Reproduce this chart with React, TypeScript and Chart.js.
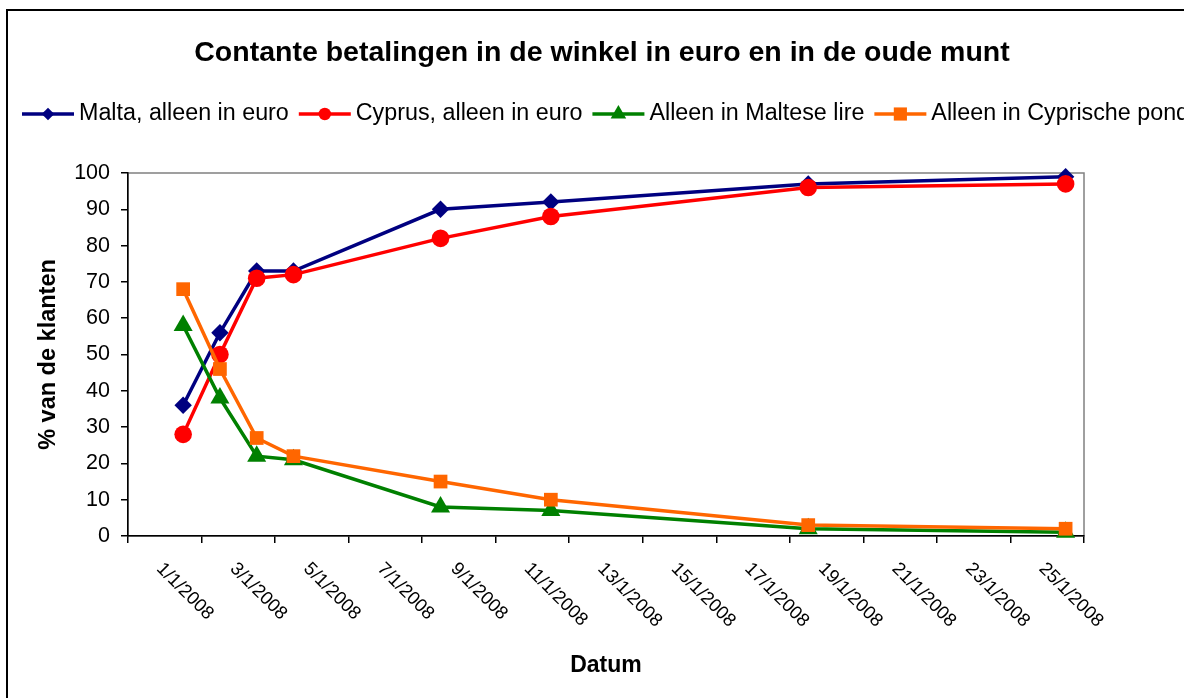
import React, { useEffect, useRef } from 'react';
import { Chart, registerables } from 'chart.js';

Chart.register(...registerables);

const TITLE = 'Contante betalingen in de winkel in euro en in de oude munt';
const Y_TITLE = '% van de klanten';
const X_TITLE = 'Datum';

// day of January 2008
const DAYS = [2, 3, 4, 5, 9, 12, 19, 26];
const MALTA_EURO = [36, 56, 73, 73, 90, 92, 97, 99];
const CYPRUS_EURO = [28, 50, 71, 72, 82, 88, 96, 97];
const MALTESE_LIRE = [58, 38, 22, 21, 8, 7, 2, 1];
const CYPRIOT_POUND = [68, 46, 27, 22, 15, 10, 3, 2];

const SERIES_NAMES = [
  'Malta, alleen in euro',
  'Cyprus, alleen in euro',
  'Alleen in Maltese lire',
  'Alleen in Cyprische pond',
];

const X_LABEL_DAYS = [1, 3, 5, 7, 9, 11, 13, 15, 17, 19, 21, 23, 25];
const X_LABELS = [
  '1/1/2008', '3/1/2008', '5/1/2008', '7/1/2008', '9/1/2008', '11/1/2008', '13/1/2008',
  '15/1/2008', '17/1/2008', '19/1/2008', '21/1/2008', '23/1/2008', '25/1/2008',
];
const X_TICK_MARKS = [0.5, 2.5, 4.5, 6.5, 8.5, 10.5, 12.5, 14.5, 16.5, 18.5, 20.5, 22.5, 24.5, 26.5];
const X_MIN = 0.5;
const X_MAX = 26.5;

const FONT = "'Liberation Sans', Arial, sans-serif";

function drawMarker(ctx: CanvasRenderingContext2D, style: string, x: number, y: number, r: number, color: string) {
  ctx.save();
  ctx.fillStyle = color;
  ctx.beginPath();
  if (style === 'circle') {
    ctx.arc(x, y, r, 0, Math.PI * 2);
  } else if (style === 'rectRot') {
    ctx.moveTo(x - r, y);
    ctx.lineTo(x, y - r);
    ctx.lineTo(x + r, y);
    ctx.lineTo(x, y + r);
    ctx.closePath();
  } else if (style === 'triangle') {
    const w = r * 0.866;
    ctx.moveTo(x, y - r);
    ctx.lineTo(x + w, y + r * 0.5);
    ctx.lineTo(x - w, y + r * 0.5);
    ctx.closePath();
  } else {
    const s = r * Math.SQRT1_2;
    ctx.rect(x - s, y - s, 2 * s, 2 * s);
  }
  ctx.fill();
  ctx.restore();
}

const LEGEND_MARKER_R: Record<string, number> = { rectRot: 6.3, circle: 6.2, triangle: 9, rect: 9.3 };

const decorPlugin = {
  id: 'decor',
  beforeDraw(chart: any) {
    const { ctx, chartArea } = chart;
    ctx.save();
    ctx.fillStyle = '#ffffff';
    ctx.fillRect(0, 0, chart.width, chart.height);
    // outer chart border (cropped on right/bottom)
    ctx.strokeStyle = '#000000';
    ctx.lineWidth = 2;
    ctx.beginPath();
    ctx.moveTo(7, chart.height + 5);
    ctx.lineTo(7, 10);
    ctx.lineTo(chart.width + 5, 10);
    ctx.stroke();
    // plot area border (grey)
    ctx.strokeStyle = '#808080';
    ctx.lineWidth = 1.5;
    ctx.strokeRect(chartArea.left, chartArea.top, chartArea.right - chartArea.left, chartArea.bottom - chartArea.top);
    ctx.restore();
  },
  afterDraw(chart: any) {
    const { ctx } = chart;
    const xScale = chart.scales.x;
    ctx.save();
    // title
    ctx.fillStyle = '#000000';
    ctx.font = `bold 28.5px ${FONT}`;
    ctx.textAlign = 'center';
    ctx.textBaseline = 'alphabetic';
    ctx.fillText(TITLE, 602, 61);

    // legend
    ctx.font = `23.3px ${FONT}`;
    ctx.textAlign = 'left';
    ctx.textBaseline = 'middle';
    let x = 22;
    const ly = 114;
    chart.data.datasets.forEach((ds: any) => {
      ctx.strokeStyle = ds.borderColor;
      ctx.lineWidth = 3.5;
      ctx.beginPath();
      ctx.moveTo(x, ly);
      ctx.lineTo(x + 52, ly);
      ctx.stroke();
      drawMarker(ctx, ds.pointStyle, x + 26, ly, LEGEND_MARKER_R[ds.pointStyle] || 6, ds.borderColor);
      ctx.fillStyle = '#000000';
      ctx.fillText(ds.label, x + 57, ly);
      x += 57 + ctx.measureText(ds.label).width + 10;
    });

    // x tick labels, rotated 45 degrees clockwise
    ctx.font = `18.5px ${FONT}`;
    ctx.textAlign = 'left';
    ctx.textBaseline = 'middle';
    X_LABEL_DAYS.forEach((d, i) => {
      const px = xScale.getPixelForValue(d);
      ctx.save();
      ctx.translate(px + 13, 566);
      ctx.rotate(Math.PI / 4);
      ctx.fillText(X_LABELS[i], 0, 0);
      ctx.restore();
    });
    ctx.restore();
  },
};

export default function App() {
  const canvasRef = useRef<HTMLCanvasElement | null>(null);

  useEffect(() => {
    document.body.style.margin = '0';
    const canvas = canvasRef.current;
    if (!canvas) return;
    const mk = (label: string, values: number[], color: string, style: string, radius: number, order: number) => ({
      label,
      data: DAYS.map((d, i) => ({ x: d, y: values[i] })),
      borderColor: color,
      backgroundColor: color,
      pointBackgroundColor: color,
      pointBorderColor: color,
      pointBorderWidth: 0,
      borderWidth: 3.5,
      pointStyle: style,
      pointRadius: radius,
      pointHoverRadius: radius,
      tension: 0,
      clip: false as any,
      order,
    });
    const chart = new Chart(canvas, {
      type: 'line',
      data: {
        datasets: [
          mk(SERIES_NAMES[0], MALTA_EURO, '#000080', 'rectRot', 8.7, 4),
          mk(SERIES_NAMES[1], CYPRUS_EURO, '#FF0000', 'circle', 8.8, 3),
          mk(SERIES_NAMES[2], MALTESE_LIRE, '#008000', 'triangle', 11, 2),
          mk(SERIES_NAMES[3], CYPRIOT_POUND, '#FF6600', 'rect', 9.7, 1),
        ] as any,
      },
      options: {
        responsive: false,
        animation: false,
        events: [],
        layout: { padding: { left: 0, top: 173, right: 100, bottom: 0 } },
        plugins: {
          legend: { display: false },
          title: { display: false },
          tooltip: { enabled: false },
        },
        scales: {
          x: {
            type: 'linear',
            min: X_MIN,
            max: X_MAX,
            afterBuildTicks: (scale: any) => {
              scale.ticks = X_TICK_MARKS.map((v) => ({ value: v }));
            },
            afterFit: (scale: any) => {
              scale.height = 162;
            },
            ticks: { display: false },
            grid: {
              drawOnChartArea: false,
              drawTicks: true,
              tickLength: 7,
              color: '#000000',
              lineWidth: 1.5,
            },
            border: { display: true, color: '#000000', width: 1.5 },
            title: {
              display: true,
              text: X_TITLE,
              color: '#000000',
              font: { family: FONT, size: 23, weight: 'bold' },
              padding: { top: 0, bottom: 19 },
            },
          },
          y: {
            type: 'linear',
            min: 0,
            max: 100,
            afterFit: (scale: any) => {
              scale.width = 128;
            },
            ticks: {
              stepSize: 10,
              color: '#000000',
              font: { family: FONT, size: 21.5 },
              padding: 11,
            },
            grid: {
              drawOnChartArea: false,
              drawTicks: true,
              tickLength: 7,
              color: '#000000',
              lineWidth: 1.5,
            },
            border: { display: true, color: '#000000', width: 1.5 },
            title: {
              display: true,
              text: Y_TITLE,
              color: '#000000',
              font: { family: FONT, size: 23.5, weight: 'bold' },
              padding: { top: 34, bottom: 0 },
            },
          },
        },
      },
      plugins: [decorPlugin],
    });
    return () => {
      chart.destroy();
    };
  }, []);

  return (
    <div style={{ width: 1184, height: 698, overflow: 'hidden' }}>
      <canvas ref={canvasRef} width={1184} height={698} style={{ display: 'block' }} />
    </div>
  );
}
